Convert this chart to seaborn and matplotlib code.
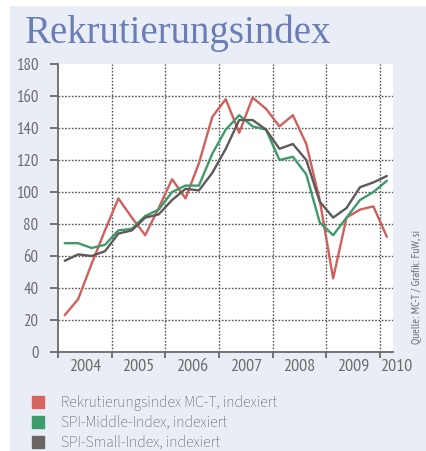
import matplotlib

matplotlib.use("Agg")

import matplotlib.pyplot as plt
import pandas as pd
import seaborn as sns
from matplotlib.lines import Line2D
from matplotlib.patches import Rectangle
from matplotlib.transforms import blended_transform_factory

# quarterly values, 2004 Q1 .. 2010 Q1
quarters = [2004.125 + 0.25 * i for i in range(25)]
rekrutierung = [23, 33, 55, 76, 96, 84, 73, 90, 108, 96, 118, 147, 158,
                137, 159, 152, 141, 148, 130, 95, 46, 84, 89, 91, 72]
spi_middle = [68, 68, 65, 67, 76, 77, 85, 89, 100, 104, 104, 124, 139,
              148, 141, 139, 120, 122, 111, 81, 73, 84, 95, 100, 107]
spi_small = [57, 61, 60, 63, 74, 76, 84, 86, 95, 102, 101, 112, 127,
             145, 145, 139, 127, 130, 120, 94, 84, 90, 103, 106, 110]

series_names = [
    "Rekrutierungsindex MC-T, indexiert",
    "SPI-Middle-Index, indexiert",
    "SPI-Small-Index, indexiert",
]
line_colors = ["#d0605e", "#3e9a6a", "#5f5a58"]
years = [2004, 2005, 2006, 2007, 2008, 2009, 2010]
y_ticks = [0, 20, 40, 60, 80, 100, 120, 140, 160, 180]

df = pd.DataFrame({
    "t": quarters * 3,
    "value": rekrutierung + spi_middle + spi_small,
    "series": [series_names[0]] * 25 + [series_names[1]] * 25 + [series_names[2]] * 25,
})

sns.set_theme(style="white")
plt.rcParams["font.family"] = ["PT Sans Narrow", "DejaVu Sans"]

panel = "#e9eef6"
text_grey = "#6a6a6a"

fig = plt.figure(figsize=(4.26, 4.51), dpi=100, facecolor="white")
fig.patches.append(Rectangle((10 / 426, 0), 1, 1 - 6 / 451, transform=fig.transFigure,
                             facecolor=panel, edgecolor="none", zorder=-10))

ax = fig.add_axes([58 / 426, 1 - 352 / 451, 335 / 426, 288 / 451])
ax.set_facecolor("white")

sns.lineplot(data=df, x="t", y="value", hue="series", palette=line_colors,
             linewidth=1.7, legend=False, ax=ax, zorder=3)

ax.set_xlim(2004, 2010.24)
ax.set_ylim(0, 180)
ax.set_xlabel("")
ax.set_ylabel("")

# grid
for y in y_ticks[1:-1]:
    ax.axhline(y, color="#555555", linestyle=(0, (1.2, 1.2)), linewidth=1.0, zorder=1)
for x in years[1:]:
    ax.axvline(x, color="#555555", linestyle=(0, (1.2, 1.2)), linewidth=1.0, zorder=1)

for side in ["top", "right"]:
    ax.spines[side].set_visible(False)
for side in ["left", "bottom"]:
    ax.spines[side].set_color("#6a6a6a")
    ax.spines[side].set_linewidth(1.3)

ax.set_yticks(y_ticks)
ax.set_yticklabels([str(v) for v in y_ticks])
ax.tick_params(axis="y", direction="out", length=6, width=1.3, color="#6a6a6a",
               labelsize=12, labelcolor=text_grey, pad=8, left=True)

ax.set_xticks(years)
ax.set_xticklabels([])
ax.tick_params(axis="x", which="major", direction="out", length=4, width=1.3,
               color="#6a6a6a", bottom=True)
ax.set_xticks([y + 0.5 for y in years[:-1]], minor=True)
ax.set_xticklabels([str(y) for y in years[:-1]], minor=True)
ax.tick_params(axis="x", which="minor", length=0, labelsize=13,
               labelcolor=text_grey, pad=5)
trans = blended_transform_factory(ax.transData, ax.transAxes)
ax.text(2010.3, -0.024, "2010", transform=trans, ha="center", va="top",
        fontsize=13, color=text_grey, clip_on=False)

# title
fig.text(25 / 426, 1 - 43 / 451, "Rekrutierungsindex", family=["Liberation Serif"],
         fontsize=28, color="#6b7db5", ha="left", va="baseline")

# source
fig.text(417 / 426, 1 - 287 / 451, "Quelle: MC-T / Grafik: FuW, si", rotation=90,
         fontsize=8.2, color=text_grey, ha="center", va="center")

# legend
handles = [Line2D([], [], marker="s", linestyle="none", markersize=8,
                  markerfacecolor=c, markeredgecolor=c) for c in ["#d4665f", "#3f9a6d", "#6b6562"]]
leg = fig.legend(handles, series_names, loc="upper left",
                 bbox_to_anchor=(24 / 426, 1 - 389 / 451), frameon=False,
                 prop={"family": ["Source Sans 3", "DejaVu Sans"], "size": 11.2,
                       "weight": "normal"},
                 handlelength=1.0, handletextpad=1.0, labelspacing=0.25,
                 borderaxespad=0)
for t in leg.get_texts():
    t.set_color("#5e5e5e")

fig.savefig("out.png", dpi=100, facecolor="white")
